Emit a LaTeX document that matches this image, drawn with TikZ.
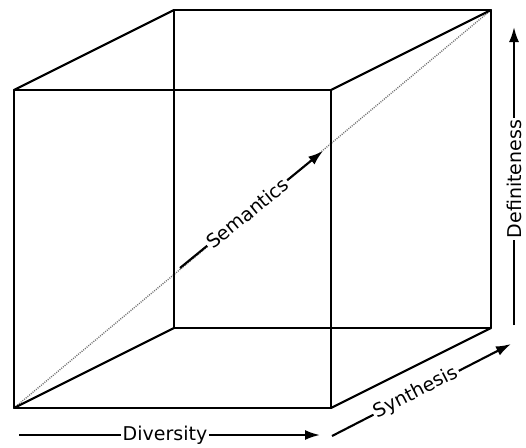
\documentclass[tikz,border=0pt]{standalone}
\usepackage{fontspec}
\setmainfont{DejaVu Sans}
\usetikzlibrary{arrows.meta}
\tikzset{
  edge/.style={line width=2.1pt, line join=round, line cap=round},
  axis/.style={line width=2.1pt, -{Latex[length=15pt,width=10pt]}},
  lbl/.style={font=\fontsize{19}{22}\selectfont, fill=white, inner sep=2pt, sloped},
  diag/.style={line width=1.4pt, black!55, dash pattern=on 1pt off 1.2pt}
}
\begin{document}
\begin{tikzpicture}[x=1pt,y=-1pt]
\useasboundingbox (0,0) rectangle (526,447);
% front face
\coordinate (F1) at (14,90);
\coordinate (F2) at (331,90);
\coordinate (F3) at (331,408);
\coordinate (F4) at (14,408);
% back face
\coordinate (B1) at (174,10);
\coordinate (B2) at (491,10);
\coordinate (B3) at (491,328);
\coordinate (B4) at (174,328);
% diagonal
\draw[diag] (F4) -- (B2);
% cube
\draw[edge] (F1) -- (F2) -- (F3) -- (F4) -- cycle;
\draw[edge] (B1) -- (B2) -- (B3) -- (B4) -- cycle;
\draw[edge] (F1) -- (B1);
\draw[edge] (F2) -- (B2);
\draw[edge] (F3) -- (B3);
\draw[edge] (F4) -- (B4);
% axes
\coordinate (S0) at (180,268);
\coordinate (S1) at (323,151);
\draw[axis] (S0) -- node[lbl, pos=0.47] (sem) {Semantics} (S1);
\coordinate (D0) at (19,435);
\coordinate (D1) at (320,435);
\draw[axis] (D0) -- node[lbl, pos=0.485] (div) {Diversity} (D1);
\coordinate (Y0) at (332,436);
\coordinate (Y1) at (511,344);
\draw[axis] (Y0) -- node[lbl, pos=0.47] (syn) {Synthesis} (Y1);
\coordinate (E0) at (514,325);
\coordinate (E1) at (514,27);
\draw[axis] (E0) -- node[lbl, pos=0.49] (def) {Definiteness} (E1);
\end{tikzpicture}
\end{document}
